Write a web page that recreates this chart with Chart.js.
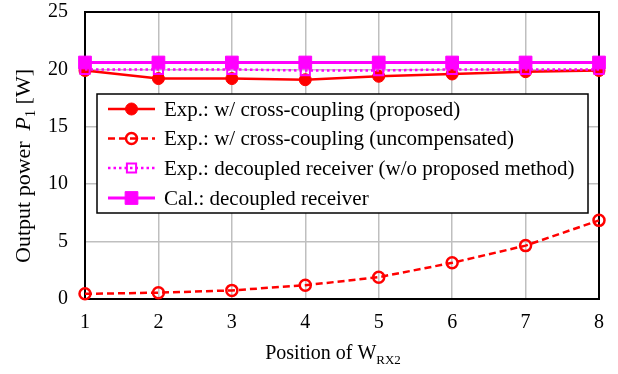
<!DOCTYPE html>
<html>
<head>
<meta charset="utf-8">
<script src="https://cdn.jsdelivr.net/npm/chart.js@4.4.1/dist/chart.umd.min.js"></script>
<style>
  html, body { margin: 0; padding: 0; background: #fff; }
  #wrap { width: 618px; height: 374px; }
</style>
</head>
<body>
<div id="wrap"><canvas id="chart" width="618" height="374"></canvas></div>
<script>
// Data
const positions = [1, 2, 3, 4, 5, 6, 7, 8];
const expProposed = [19.9, 19.2, 19.2, 19.1, 19.4, 19.6, 19.8, 19.9];
const expUncompensated = [0.45, 0.55, 0.75, 1.2, 1.9, 3.15, 4.65, 6.85];
const expDecoupled = [20.0, 20.0, 20.0, 19.9, 19.9, 20.0, 20.0, 20.0];
const calDecoupled = [20.6, 20.6, 20.6, 20.6, 20.6, 20.6, 20.6, 20.6];
const yTicks = [0, 5, 10, 15, 20, 25];
const seriesLabels = [
  'Exp.: w/ cross-coupling (proposed)',
  'Exp.: w/ cross-coupling (uncompensated)',
  'Exp.: decoupled receiver (w/o proposed method)',
  'Cal.: decoupled receiver'
];

const RED = '#ff0000';
const MAGENTA = '#ff00ff';
const SERIF = "'Liberation Serif', 'Times New Roman', serif";

const toXY = arr => arr.map((v, i) => ({ x: positions[i], y: v }));

const datasets = [
  {
    label: seriesLabels[0], data: toXY(expProposed),
    borderColor: RED, backgroundColor: RED, borderWidth: 2.5,
    pointStyle: 'circle', pointRadius: 6, pointBorderWidth: 1,
    pointBackgroundColor: RED, pointBorderColor: RED, order: 2
  },
  {
    label: seriesLabels[1], data: toXY(expUncompensated),
    borderColor: RED, backgroundColor: 'rgba(0,0,0,0)', borderWidth: 2.5, borderDash: [7, 4],
    pointStyle: 'circle', pointRadius: 5.5, pointBorderWidth: 2.5,
    pointBackgroundColor: 'rgba(0,0,0,0)', pointBorderColor: RED, order: 3
  },
  {
    label: seriesLabels[2], data: toXY(expDecoupled),
    borderColor: MAGENTA, backgroundColor: 'rgba(0,0,0,0)', borderWidth: 2.5, borderDash: [2.5, 3],
    pointStyle: 'rect', pointRadius: 6.5, pointBorderWidth: 2,
    pointBackgroundColor: 'rgba(0,0,0,0)', pointBorderColor: MAGENTA, order: 1
  },
  {
    label: seriesLabels[3], data: toXY(calDecoupled),
    borderColor: MAGENTA, backgroundColor: MAGENTA, borderWidth: 3,
    pointStyle: 'rect', pointRadius: 9, pointBorderWidth: 1,
    pointBackgroundColor: MAGENTA, pointBorderColor: MAGENTA, order: 0
  }
];
datasets.forEach(d => { d.clip = false; d.tension = 0; d.pointHoverRadius = d.pointRadius; });

// black frame round the plot area, under the marks
const framePlugin = {
  id: 'frame',
  beforeDatasetsDraw(chart) {
    const { ctx, chartArea: a } = chart;
    ctx.save();
    ctx.strokeStyle = '#000';
    ctx.lineWidth = 2;
    ctx.strokeRect(a.left, a.top, a.right - a.left, a.bottom - a.top);
    ctx.restore();
  }
};

// legend box inside the plot + axis titles with subscripts
const annotPlugin = {
  id: 'annot',
  afterDraw(chart) {
    const ctx = chart.ctx;
    ctx.save();

    // legend
    const box = { x: 97, y: 94, w: 491, h: 119 };
    ctx.fillStyle = '#fff';
    ctx.fillRect(box.x, box.y, box.w, box.h);
    ctx.strokeStyle = '#000';
    ctx.lineWidth = 1.5;
    ctx.strokeRect(box.x, box.y, box.w, box.h);

    const rowY = [109, 138.5, 168, 198];
    chart.data.datasets.forEach((ds, i) => {
      const y = rowY[i];
      ctx.save();
      ctx.strokeStyle = ds.borderColor;
      ctx.lineWidth = ds.borderWidth;
      ctx.setLineDash(ds.borderDash || []);
      ctx.beginPath();
      ctx.moveTo(108, y);
      ctx.lineTo(155, y);
      ctx.stroke();
      ctx.restore();

      ctx.save();
      ctx.fillStyle = ds.pointBackgroundColor;
      ctx.strokeStyle = ds.pointBorderColor;
      ctx.lineWidth = ds.pointBorderWidth;
      Chart.helpers.drawPoint(ctx, {
        pointStyle: ds.pointStyle, radius: ds.pointRadius, rotation: 0,
        borderWidth: ds.pointBorderWidth
      }, 131.5, y);
      ctx.restore();

      ctx.fillStyle = '#000';
      ctx.font = '21px ' + SERIF;
      ctx.textBaseline = 'middle';
      ctx.textAlign = 'left';
      ctx.fillText(ds.label, 164, y + 1);
    });

    // x title: Position of W_RX2
    ctx.fillStyle = '#000';
    ctx.textBaseline = 'alphabetic';
    ctx.textAlign = 'left';
    const main = 'Position of W', sub = 'RX2';
    ctx.font = '20px ' + SERIF;
    const wMain = ctx.measureText(main).width;
    ctx.font = '13px ' + SERIF;
    const wSub = ctx.measureText(sub).width;
    let x0 = 333 - (wMain + wSub) / 2;
    ctx.font = '20px ' + SERIF;
    ctx.fillText(main, x0, 359);
    ctx.font = '13px ' + SERIF;
    ctx.fillText(sub, x0 + wMain, 364);

    // y title: Output power  P1 [W]
    ctx.translate(30, 166);
    ctx.rotate(-Math.PI / 2);
    const parts = [
      { t: 'Output power  ', f: '22px ' + SERIF, dy: 0 },
      { t: 'P', f: 'italic 22px ' + SERIF, dy: 0 },
      { t: '1', f: '14px ' + SERIF, dy: 5 },
      { t: ' [W]', f: '22px ' + SERIF, dy: 0 }
    ];
    let total = 0;
    parts.forEach(p => { ctx.font = p.f; p.w = ctx.measureText(p.t).width; total += p.w; });
    let px = -total / 2;
    parts.forEach(p => {
      ctx.font = p.f;
      ctx.fillText(p.t, px, p.dy);
      px += p.w;
    });
    ctx.restore();
  }
};

new Chart(document.getElementById('chart').getContext('2d'), {
  type: 'line',
  data: { datasets },
  options: {
    responsive: false,
    animation: false,
    devicePixelRatio: 1,
    layout: { padding: { top: 12, right: 19, left: 0, bottom: 0 } },
    plugins: { legend: { display: false }, tooltip: { enabled: false } },
    scales: {
      x: {
        type: 'linear', min: 1, max: 8,
        afterBuildTicks: s => { s.ticks = positions.map(v => ({ value: v })); },
        afterFit: s => { s.height = 75; s.paddingLeft = 0; s.paddingRight = 0; },
        grid: { color: '#bfbfbf', lineWidth: 1.5, drawTicks: false },
        border: { display: false },
        ticks: { color: '#000', font: { family: SERIF, size: 20 }, padding: 12 }
      },
      y: {
        min: 0, max: 25,
        afterBuildTicks: s => { s.ticks = yTicks.map(v => ({ value: v })); },
        afterFit: s => { s.width = 85; s.paddingTop = 0; s.paddingBottom = 0; },
        grid: { color: '#bfbfbf', lineWidth: 1.5, drawTicks: false },
        border: { display: false },
        ticks: { color: '#000', font: { family: SERIF, size: 20 }, padding: 17 }
      }
    }
  },
  plugins: [framePlugin, annotPlugin]
});
</script>
</body>
</html>
